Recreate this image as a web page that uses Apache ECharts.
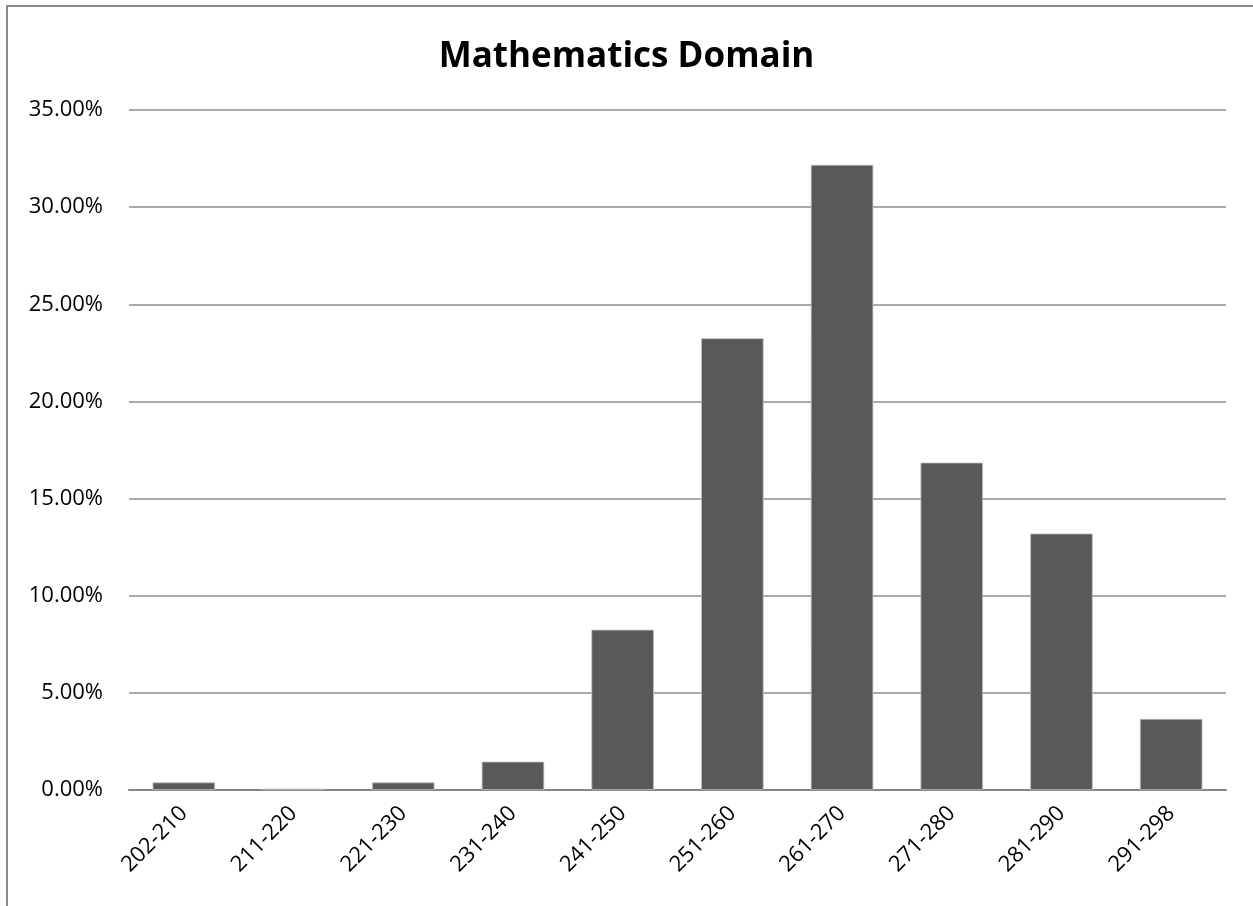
<!DOCTYPE html>
<html>
<head>
<meta charset="utf-8">
<script src="https://cdn.jsdelivr.net/npm/echarts@6/dist/echarts.min.js"></script>
<style>
html,body{margin:0;padding:0;background:#fff;}
#chart{width:1253px;height:906px;}
</style>
</head>
<body>
<div id="chart"></div>
<script>
const titleText = "Mathematics Domain";
const categories = ["202-210","211-220","221-230","231-240","241-250","251-260","261-270","271-280","281-290","291-298"];
const values = [0.39, 0.07, 0.39, 1.46, 8.25, 23.25, 32.18, 16.85, 13.20, 3.66];
const yTicks = { min: 0, max: 35, interval: 5 };

const chart = echarts.init(document.getElementById('chart'));
const font = "'Open Sans', 'Noto Sans', sans-serif";
chart.setOption({
  backgroundColor: '#fff',
  animation: false,
  title: {
    text: titleText,
    left: 'center',
    top: 35,
    textStyle: { fontFamily: font, fontSize: 35, fontWeight: 'bold', color: '#000' }
  },
  graphic: [
    { type: 'line', shape: { x1: 7, y1: 6, x2: 7, y2: 906 }, style: { stroke: '#8c8c8c', lineWidth: 2 } },
    { type: 'line', shape: { x1: 6, y1: 6, x2: 1253, y2: 6 }, style: { stroke: '#8c8c8c', lineWidth: 2 } }
  ],
  grid: { left: 129, right: 27, top: 110, bottom: 116, containLabel: false },
  xAxis: {
    type: 'category',
    data: categories,
    axisLine: { show: true, lineStyle: { color: '#868686', width: 2 } },
    axisTick: { show: false },
    axisLabel: { rotate: 45, margin: 20, fontFamily: font, fontSize: 22, color: '#000', interval: 0 }
  },
  yAxis: {
    type: 'value',
    min: yTicks.min, max: yTicks.max, interval: yTicks.interval,
    axisLine: { show: false },
    axisTick: { show: false },
    splitLine: { lineStyle: { color: '#8c8c8c', width: 1.5 } },
    axisLabel: { margin: 26, fontFamily: font, fontSize: 22, color: '#000', formatter: v => v.toFixed(2) + '%' }
  },
  series: [{
    type: 'bar',
    data: values,
    barCategoryGap: '43%',
    itemStyle: { color: '#595959', borderColor: '#bfbfbf', borderWidth: 0.8 }
  }]
});
</script>
</body>
</html>
